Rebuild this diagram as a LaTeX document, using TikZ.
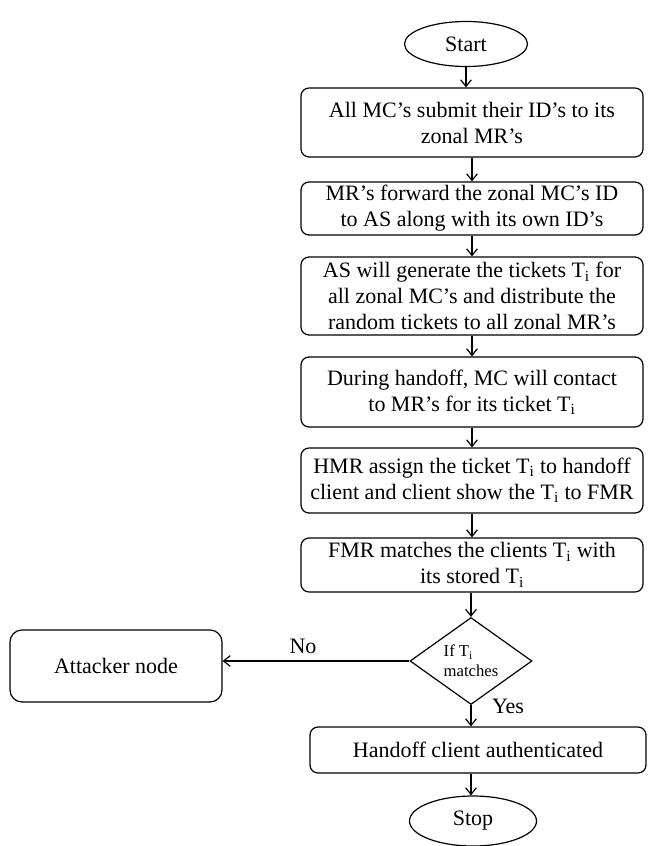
\documentclass[tikz,border=0pt]{standalone}
\usepackage{fontspec}
\setmainfont{Liberation Serif}
\usetikzlibrary{shapes.geometric,arrows.meta}
\begin{document}
\begin{tikzpicture}[x=0.75pt,y=-0.75pt,
  every node/.style={font=\fontsize{16.5}{19.5}\selectfont},
  flowbox/.style={draw, rounded corners=6pt, line width=0.9pt, align=center, inner sep=0pt, minimum width=256.5pt},
  terminal/.style={draw, ellipse, line width=0.9pt, inner sep=0pt},
  decision/.style={draw, diamond, line width=0.9pt, inner sep=0pt, align=left,
    font=\fontsize{12.5}{15}\selectfont},
  flow/.style={line width=0.9pt, -{Straight Barb[length=5pt,width=8pt,line width=0.9pt]}},
  tag/.style={inner sep=0pt}
]
\useasboundingbox (0,0) rectangle (649,846);

% main column
\node[terminal, minimum width=92.25pt, minimum height=33.75pt] (start) at (466,44) {Start};
\node[flowbox, minimum height=51.75pt] (b1) at (472,122.5)
  {All MC’s submit their ID’s to its\\zonal MR’s};
\node[flowbox, minimum height=39.75pt] (b2) at (472,208.5)
  {MR’s forward the zonal MC’s ID\\to AS along with its own ID’s};
\node[flowbox, minimum height=58.5pt] (b3) at (472,296)
  {AS will generate the tickets T\textsubscript{i} for\\all zonal MC’s and distribute the\\random tickets to all zonal MR’s};
\node[flowbox, minimum height=52.5pt] (b4) at (472,392)
  {During handoff, MC will contact\\to MR’s for its ticket T\textsubscript{i}};
\node[flowbox, minimum height=48.75pt] (b5) at (472,480.5)
  {HMR assign the ticket T\textsubscript{i} to handoff\\client and client show the T\textsubscript{i} to FMR};
\node[flowbox, minimum height=40.5pt] (b6) at (472,565)
  {FMR matches the clients T\textsubscript{i} with\\its stored T\textsubscript{i}};
\node[decision, minimum width=91.5pt, minimum height=65.25pt] (dec) at (471,661)
  {If T\textsubscript{i}\\matches};
\node[flowbox, minimum width=252pt, minimum height=34.5pt] (hand) at (478,750)
  {Handoff client authenticated};
\node[terminal, minimum width=95.25pt, minimum height=37.5pt] (stop) at (473,821) {Stop};

% rejected branch
\node[flowbox, rounded corners=9pt, minimum width=159pt, minimum height=54pt] (att) at (116,666)
  {Attacker node};

% connectors
\draw[flow] (start.south) -- (start.south |- b1.north);
\draw[flow] (b1.south) -- (b2.north);
\draw[flow] (b2.south) -- (b3.north);
\draw[flow] (b3.south) -- (b4.north);
\draw[flow] (b4.south) -- (b5.north);
\draw[flow] (b5.south) -- (b6.north);
\draw[flow] (b6.south -| dec.north) -- (dec.north);
\draw[flow] (dec.south) -- (dec.south |- hand.north);
\draw[flow] (dec.south |- hand.south) -- (dec.south |- stop.north);
\draw[flow] (dec.west) -- (dec.west -| att.east);

% branch labels
\node[tag] (no) at (303,646) {No};
\node[tag] (yes) at (508,706) {Yes};
\end{tikzpicture}
\end{document}
